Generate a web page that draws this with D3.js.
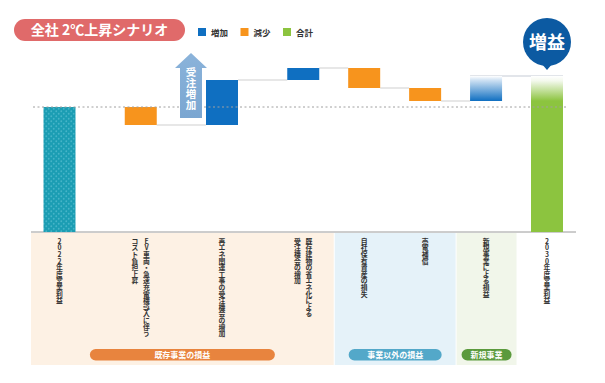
<!DOCTYPE html>
<html><head><meta charset="utf-8">
<script src="https://cdn.jsdelivr.net/npm/d3@7"></script>
<style>
body{margin:0;background:#fff}
svg{display:block}
text{font-family:"Noto Sans CJK JP","Noto Sans",sans-serif}
</style>
</head><body>
<svg id="c" width="605" height="383"></svg>
<script>
// ---- data ----
const titleText = "全社 2℃上昇シナリオ";
const legendLabels = ["増加", "減少", "合計"];
const categories = [
  "2022年度営業利益",
  "EV車両・急速充電機導入に伴う\nコスト負担上昇",
  "再エネ関連工事の受注機会の増加",
  "既存建物の省エネ化による\n受注機会の増加",
  "自社保有資産の損失",
  "売電補償",
  "新規事業による損益",
  "2030年度営業利益"
];
const values = [100, -14.4, 36, 9.6, -16, -10.4, 20, null];
const kinds = ["start", "decrease", "increase", "increase", "decrease", "decrease", "increase", "total"];
const groupNames = ["既存事業の損益", "事業以外の損益", "新規事業"];
const groupOf = ["既存事業の損益", "既存事業の損益", "既存事業の損益", "既存事業の損益", "事業以外の損益", "事業以外の損益", "新規事業", null];
const arrowText = "受注増加";
const badgeText = "増益";

// ---- styles / layout ----
const colors = { increase: "#0f6fc1", decrease: "#f7941d", total: "#8cc43f", start: "#1b9db3" };
const groupFill = ["#fdf1e4", "#e5f2f9", "#f1f6ea"];
const pillFill = ["#e8843e", "#53a8c9", "#5b9a3d"];
const pillWidth = [185, 93, 50];

const svg = d3.select("#c");
const defs = svg.append("defs");

// vertical text helper: one glyph per row
function vtext(g, str, cx, top, size, step, attrs) {
  const t = g.append("text").attr("text-anchor", "middle").attr("font-size", size);
  Object.entries(attrs).forEach(([k, v]) => t.attr(k, v));
  Array.from(str).forEach((ch, k) => {
    t.append("tspan").attr("x", cx).attr("y", top + k * step + size * 0.86).text(ch);
  });
  return t;
}

// dotted pattern for starting bar
const pat = defs.append("pattern").attr("id", "dots").attr("patternUnits", "userSpaceOnUse")
  .attr("width", 5).attr("height", 5);
pat.append("rect").attr("width", 5).attr("height", 5).attr("fill", colors.start);
pat.append("circle").attr("cx", 1.25).attr("cy", 1.25).attr("r", 0.9).attr("fill", "#45b4c7");
pat.append("circle").attr("cx", 3.75).attr("cy", 3.75).attr("r", 0.9).attr("fill", "#45b4c7");

const gBlue = defs.append("linearGradient").attr("id", "gBlue").attr("x1", 0).attr("x2", 0).attr("y1", 0).attr("y2", 1);
gBlue.append("stop").attr("offset", 0).attr("stop-color", "#ffffff");
gBlue.append("stop").attr("offset", 0.15).attr("stop-color", "#d3e4f4");
gBlue.append("stop").attr("offset", 1).attr("stop-color", "#0f6fc1");

const gGreen = defs.append("linearGradient").attr("id", "gGreen").attr("x1", 0).attr("x2", 0).attr("y1", 0).attr("y2", 1);
gGreen.append("stop").attr("offset", 0).attr("stop-color", "#ffffff");
gGreen.append("stop").attr("offset", 0.03).attr("stop-color", "#f4f9ee");
gGreen.append("stop").attr("offset", 0.16).attr("stop-color", colors.total);
gGreen.append("stop").attr("offset", 1).attr("stop-color", colors.total);

const gArrow = defs.append("linearGradient").attr("id", "gArrow").attr("x1", 0).attr("x2", 0).attr("y1", 0).attr("y2", 1);
gArrow.append("stop").attr("offset", 0).attr("stop-color", "#8bb3da");
gArrow.append("stop").attr("offset", 1).attr("stop-color", "#7aa6d1");

// slots: wider spacing inside the first group
const slots = [];
categories.forEach((c, i) => {
  slots.push(i === 0 ? 0 : slots[i - 1] + (groupOf[i] === groupNames[0] ? 4 : 3));
});
const x = d3.scaleLinear().domain([0, d3.max(slots)]).range([59.5, 547]);
const y = d3.scaleLinear().domain([0, 100]).range([232, 107]);
const barW = 32;

// waterfall computation
let cum = 0;
const bars = categories.map((c, i) => {
  let y0, y1;
  if (kinds[i] === "start") { y0 = 0; y1 = values[i]; cum = values[i]; }
  else if (kinds[i] === "total") { y0 = 0; y1 = cum; }
  else { y0 = cum; cum += values[i]; y1 = cum; }
  return { c, i, kind: kinds[i], y0, y1, cx: x(slots[i]) };
});

// group panels
const panelTop = 233, panelBottom = 365;
groupNames.forEach((g, k) => {
  const idx = groupOf.map((d, i) => d === g ? i : -1).filter(i => i >= 0);
  const a = d3.min(idx), b = d3.max(idx);
  const left = x(slots[a] - 1.5) + (k === 0 ? 2 : 1);
  const right = x(slots[b] + 1.5);
  svg.append("rect").attr("x", left).attr("y", panelTop).attr("width", right - left)
    .attr("height", panelBottom - panelTop).attr("fill", groupFill[k]);
  const cx = (left + right) / 2;
  svg.append("rect").attr("x", cx - pillWidth[k] / 2).attr("y", 349).attr("width", pillWidth[k])
    .attr("height", 11.5).attr("rx", 5.75).attr("fill", pillFill[k]);
  svg.append("text").attr("x", cx).attr("y", 358.2).attr("text-anchor", "middle")
    .attr("font-size", 8).attr("font-weight", 700).attr("fill", "#fff").text(g);
});

// axis line
svg.append("line").attr("x1", 31).attr("x2", 576).attr("y1", y(0)).attr("y2", y(0))
  .attr("stroke", "#9a9a9a").attr("stroke-width", 1);

// connectors
bars.forEach((b, i) => {
  if (i === 0 || i === bars.length - 1) return;
  const nb = bars[i + 1];
  const x1 = (nb.kind === "total") ? b.cx - barW / 2 : b.cx + barW / 2;
  const x2 = (nb.kind === "total") ? nb.cx + barW / 2 : nb.cx - barW / 2;
  svg.append("line").attr("x1", x1).attr("x2", x2).attr("y1", y(b.y1)).attr("y2", y(b.y1))
    .attr("stroke", nb.kind === "total" ? "#d9dde3" : "#cfcfcf").attr("stroke-width", nb.kind === "total" ? 1.6 : 1);
});

// bars
bars.forEach((b, i) => {
  let fill;
  if (b.kind === "start") fill = "url(#dots)";
  else if (b.kind === "total") fill = "url(#gGreen)";
  else if (b.kind === "increase") fill = (groupOf[i] === groupNames[2]) ? "url(#gBlue)" : colors.increase;
  else fill = colors.decrease;
  const top = y(Math.max(b.y0, b.y1)), bot = y(Math.min(b.y0, b.y1));
  svg.append("rect").attr("x", b.cx - barW / 2).attr("y", top).attr("width", barW)
    .attr("height", bot - top).attr("fill", fill);
});

// dotted reference line at starting value
svg.append("line").attr("x1", 33).attr("x2", 567).attr("y1", y(values[0])).attr("y2", y(values[0]))
  .attr("stroke", "#a0a0a0").attr("stroke-width", 1).attr("stroke-dasharray", "2,2.5");

// arrow annotation (受注増加)
{
  const b3 = bars[2];
  const ax = b3.cx - barW / 2 - 15;
  const bottom = y(bars[1].y1) - 7;
  const headBase = y(b3.y1) - 12;
  const tip = headBase - 15;
  const path = `M${ax - 11},${bottom} L${ax - 11},${headBase} L${ax - 16},${headBase} L${ax},${tip} L${ax + 16},${headBase} L${ax + 11},${headBase} L${ax + 11},${bottom} Z`;
  svg.append("path").attr("d", path).attr("fill", "url(#gArrow)");
  vtext(svg, arrowText, ax, headBase - 1, 10.5, 11, { "font-weight": 700, fill: "#fff" });
}

// badge (増益)
{
  const bt = bars[bars.length - 1];
  const cx = bt.cx, cy = 42, r = 24;
  svg.append("path").attr("d", `M${cx - 6},${cy + r - 3} L${cx},${cy + r + 4} L${cx + 6},${cy + r - 3} Z`).attr("fill", "#0c5aa2");
  svg.append("circle").attr("cx", cx).attr("cy", cy).attr("r", r).attr("fill", "#0c5aa2");
  svg.append("text").attr("x", cx).attr("y", cy + 6.5).attr("text-anchor", "middle")
    .attr("font-size", 18).attr("font-weight", 700).attr("fill", "#fff").text(badgeText);
}

// category labels (vertical, one glyph per row)
bars.forEach(b => {
  const lines = b.c.split("\n");
  const gap = 11.5;
  lines.forEach((ln, j) => {
    const off = (lines.length - 1) / 2 * gap - j * gap;
    vtext(svg, ln, b.cx + off, 238, 6.8, 6.6, { "font-weight": 700, fill: "#333" });
  });
});

// title pill
svg.append("rect").attr("x", 14).attr("y", 19).attr("width", 171).attr("height", 22).attr("rx", 11).attr("fill", "#e06a6a");
svg.append("text").attr("x", 99.5).attr("y", 35).attr("text-anchor", "middle")
  .attr("font-size", 14).attr("font-weight", 700).attr("fill", "#fff").text(titleText);

// legend
const legColors = [colors.increase, colors.decrease, colors.total];
legendLabels.forEach((l, k) => {
  const lx = 198 + k * 42.5;
  svg.append("rect").attr("x", lx).attr("y", 28).attr("width", 8).attr("height", 8).attr("fill", legColors[k]);
  svg.append("text").attr("x", lx + 13).attr("y", 35.5).attr("font-size", 8.5).attr("font-weight", 700)
    .attr("fill", "#333").text(l);
});
</script>
</body></html>
